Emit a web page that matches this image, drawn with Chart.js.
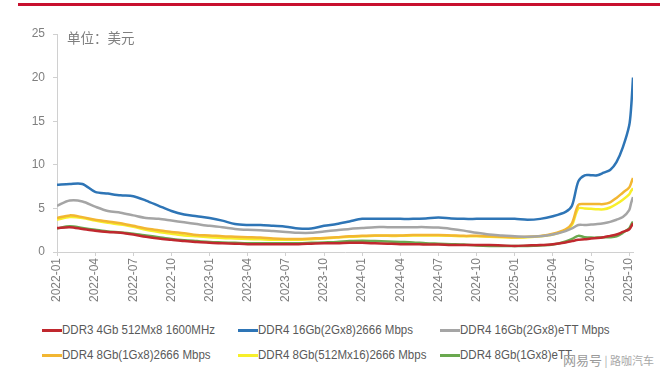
<!DOCTYPE html>
<html>
<head>
<meta charset="utf-8">
<script src="https://cdn.jsdelivr.net/npm/chart.js@4.4.0/dist/chart.umd.min.js"></script>
<style>
  body { margin: 0; width: 660px; height: 372px; background: #fff; position: relative; overflow: hidden; font-family: "Liberation Sans", Arial, sans-serif; }
  .topbar { position: absolute; left: 18px; right: 0; top: 3px; height: 3px; background: #c8102e; }
  .unit { position: absolute; left: 67px; top: 30px; line-height: 14px; font-size: 13.5px; color: #7f7f7f; font-family: "Noto Sans CJK SC", sans-serif; }
  #wrap { position: absolute; left: 0; top: 0; width: 660px; height: 310px; }
  .item { position: absolute; height: 14px; display: flex; align-items: center; font-family: "Liberation Sans", Arial, sans-serif; font-size: 12px; color: #595959; white-space: nowrap; }
  .swatch { width: 20px; height: 3px; }
  .label { display: inline-block; transform: scaleX(0.96); transform-origin: left center; }
  .wm { position: absolute; left: 563px; top: 350px; line-height: 16px; color: #a8a8a8; font-family: "Noto Sans CJK SC", sans-serif; white-space: nowrap; }
  .wm .a { font-size: 13px; color: #9a9a9a; }
  .wm .b { font-size: 11px; }
</style>
</head>
<body>
<div class="topbar"></div>
<div id="wrap"><canvas id="chart" width="660" height="310"></canvas></div>
<div class="unit">单位：美元</div>
<div id="legend"></div>
<div class="wm"><span class="a">网易号</span><span class="b"> | 路咖汽车</span></div>
<script>
// months since 2022-01 (monthly, then finer near the end)
const months = [
  0, 1, 2, 3, 4, 5, 6, 7, 8, 9,
  10, 11, 12, 13, 14, 15, 16, 17, 18, 19,
  20, 21, 22, 23, 24, 25, 26, 27, 28, 29,
  30, 31, 32, 33, 34, 35, 36, 37, 38, 39,
  40, 40.5, 41, 41.5, 42, 42.5, 43, 43.5, 44, 44.5, 45, 45.15, 45.3
];

const tickMonths = [0, 3, 6, 9, 12, 15, 18, 21, 24, 27, 30, 33, 36, 39, 42, 45];
const tickLabels = [
  "2022-01", "2022-04", "2022-07", "2022-10",
  "2023-01", "2023-04", "2023-07", "2023-10",
  "2024-01", "2024-04", "2024-07", "2024-10",
  "2025-01", "2025-04", "2025-07", "2025-10"
];

const seriesNames = [
  "DDR3 4Gb 512Mx8 1600MHz",
  "DDR4 16Gb(2Gx8)2666 Mbps",
  "DDR4 16Gb(2Gx8)eTT Mbps",
  "DDR4 8Gb(1Gx8)2666 Mbps",
  "DDR4 8Gb(512Mx16)2666 Mbps",
  "DDR4 8Gb(1Gx8)eTT"
];
const seriesColors = ["#c0282e", "#2e75b6", "#a5a5a5", "#f2b632", "#f7ef2a", "#6aa84f"];

const ddr3 = [
  2.75, 2.85, 2.65, 2.45, 2.3, 2.2, 2.0, 1.75, 1.55, 1.4,
  1.25, 1.15, 1.05, 1.0, 0.95, 0.9, 0.9, 0.9, 0.9, 0.9,
  0.95, 1.0, 1.0, 1.05, 1.05, 1.0, 0.95, 0.9, 0.9, 0.85,
  0.85, 0.8, 0.8, 0.8, 0.8, 0.75, 0.7, 0.75, 0.8, 0.9,
  1.1, 1.25, 1.4, 1.45, 1.55, 1.6, 1.7, 1.85, 2.0, 2.3, 2.6, 2.9, 3.3
];
const ddr4_16g = [
  7.7, 7.8, 7.8, 6.9, 6.7, 6.5, 6.4, 5.9, 5.3, 4.7,
  4.3, 4.1, 3.9, 3.6, 3.2, 3.1, 3.1, 3.0, 2.9, 2.7,
  2.7, 3.0, 3.2, 3.5, 3.8, 3.8, 3.8, 3.8, 3.8, 3.85,
  3.95, 3.85, 3.8, 3.8, 3.8, 3.8, 3.8, 3.7, 3.8, 4.1,
  4.6, 5.3, 8.1, 8.8, 8.8, 8.8, 9.1, 9.4, 10.3, 12.0, 14.5, 16.5, 20.0
];
const ddr4_16g_ett = [
  5.3, 5.9, 5.8, 5.2, 4.7, 4.5, 4.2, 3.9, 3.8, 3.6,
  3.4, 3.2, 3.0, 2.85, 2.65, 2.55, 2.5, 2.4, 2.3, 2.2,
  2.2, 2.35, 2.5, 2.65, 2.75, 2.85, 2.85, 2.85, 2.85, 2.85,
  2.8, 2.65, 2.45, 2.2, 2.0, 1.9, 1.8, 1.75, 1.8, 2.0,
  2.4, 2.7, 3.1, 3.1, 3.15, 3.2, 3.3, 3.45, 3.7, 4.0, 4.8, 5.6, 6.3
];
const ddr4_8g_1g = [
  3.9, 4.2, 4.0, 3.7, 3.5, 3.3, 3.0, 2.7, 2.5, 2.3,
  2.15, 1.95, 1.9, 1.8, 1.75, 1.7, 1.65, 1.55, 1.5, 1.5,
  1.55, 1.6, 1.7, 1.8, 1.85, 1.9, 1.9, 1.9, 1.95, 1.95,
  1.95, 1.9, 1.85, 1.85, 1.8, 1.75, 1.7, 1.75, 1.85, 2.1,
  2.6, 3.3, 5.4, 5.5, 5.5, 5.5, 5.5, 5.7, 6.2, 6.8, 7.4, 7.9, 8.5
];
const ddr4_8g_512m = [
  3.7, 4.0, 3.9, 3.6, 3.35, 3.15, 2.9, 2.55, 2.3, 2.1,
  1.9, 1.8, 1.7, 1.6, 1.55, 1.5, 1.45, 1.4, 1.4, 1.4,
  1.45, 1.55, 1.65, 1.75, 1.8, 1.85, 1.85, 1.85, 1.9, 1.9,
  1.9, 1.85, 1.8, 1.8, 1.75, 1.7, 1.65, 1.7, 1.8, 2.0,
  2.5, 3.1, 5.0, 5.0, 4.95, 4.9, 4.9, 5.1, 5.5, 6.0, 6.6, 7.0, 7.3
];
const ddr4_8g_ett = [
  2.7, 2.95, 2.75, 2.55, 2.35, 2.25, 2.1, 1.9, 1.7, 1.5,
  1.35, 1.25, 1.15, 1.1, 1.05, 1.0, 1.0, 1.0, 1.0, 1.0,
  1.05, 1.1, 1.15, 1.25, 1.3, 1.25, 1.2, 1.15, 1.1, 1.0,
  0.95, 0.9, 0.85, 0.75, 0.7, 0.7, 0.7, 0.7, 0.75, 0.85,
  1.2, 1.5, 1.85, 1.7, 1.65, 1.65, 1.7, 1.7, 1.8, 2.2, 2.7, 3.1, 3.5
];

const allSeries = [ddr3, ddr4_16g, ddr4_16g_ett, ddr4_8g_1g, ddr4_8g_512m, ddr4_8g_ett];

// legend built as html so the columns line up
const legendSpots = [[42, 323], [238, 323], [440, 323], [42, 348], [238, 348], [440, 348]];
const legendEl = document.getElementById("legend");
seriesNames.forEach((name, i) => {
  const item = document.createElement("div");
  item.className = "item";
  item.style.left = legendSpots[i][0] + "px";
  item.style.top = legendSpots[i][1] + "px";
  item.innerHTML = `<span class="swatch" style="background:${seriesColors[i]}"></span><span class="label">${name}</span>`;
  legendEl.appendChild(item);
});

const axisFont = { family: "'Liberation Sans', Arial, sans-serif", size: 12 };

const chart = new Chart(document.getElementById("chart").getContext("2d"), {
  type: "line",
  data: {
    datasets: allSeries.map((vals, i) => ({
      label: seriesNames[i],
      data: months.map((m, j) => ({ x: m, y: vals[j] })),
      borderColor: seriesColors[i],
      backgroundColor: seriesColors[i],
      borderWidth: 2.5,
      pointRadius: 0,
      tension: 0.3,
      fill: false,
    })),
  },
  options: {
    responsive: false,
    animation: false,
    layout: { padding: { left: 12, top: 34, right: 27, bottom: 0 } },
    plugins: { legend: { display: false }, tooltip: { enabled: false } },
    scales: {
      x: {
        type: "linear",
        min: 0,
        max: 45.3,
        afterBuildTicks: (axis) => {
          axis.ticks = tickMonths.map((v) => ({ value: v }));
        },
        afterFit: (s) => { s.height = 58; },
        grid: { display: true, drawOnChartArea: false, drawTicks: true, tickLength: 4, color: "#d0d0d0" },
        border: { color: "#d0d0d0" },
        ticks: {
          autoSkip: false,
          minRotation: 90,
          maxRotation: 90,
          padding: 2,
          color: "#7f7f7f",
          font: axisFont,
          callback: (v) => tickLabels[tickMonths.indexOf(v)],
        },
      },
      y: {
        min: 0,
        max: 25,
        afterFit: (s) => { s.width = 45; },
        grid: { display: true, drawOnChartArea: false, drawTicks: true, tickLength: 4, color: "#d0d0d0" },
        border: { color: "#d0d0d0" },
        ticks: { stepSize: 5, padding: 8, color: "#7f7f7f", font: axisFont },
      },
    },
  },
});
</script>
</body>
</html>
